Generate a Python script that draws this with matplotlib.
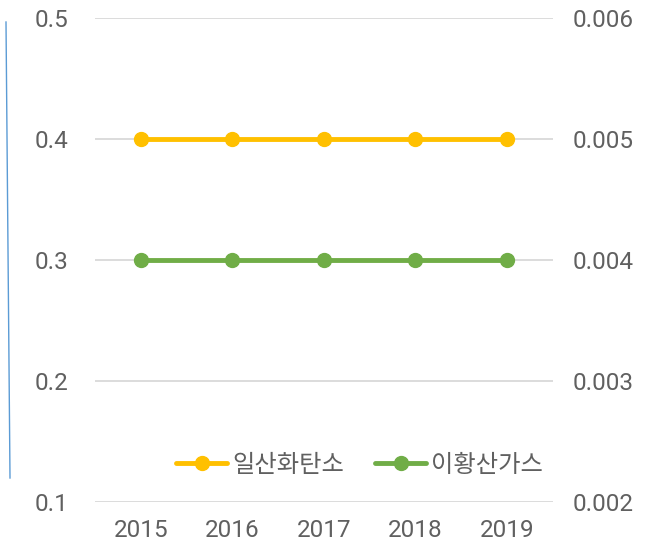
import matplotlib.pyplot as plt
from matplotlib.lines import Line2D

plt.rcParams['font.family'] = ['Roboto', 'Noto Sans CJK KR', 'DejaVu Sans']

years = ["2015", "2016", "2017", "2018", "2019"]
co = [0.4, 0.4, 0.4, 0.4, 0.4]            # 일산화탄소, left axis
so2 = [0.004, 0.004, 0.004, 0.004, 0.004]  # 이황산가스, right axis

YELLOW = "#FFC000"
GREEN = "#70AD47"
TXT = "#606060"
FS = 17.5

fig = plt.figure(figsize=(6.51, 5.5), dpi=100)
ax = fig.add_axes([0.146, 0.0873, 0.703, 0.8800])
ax2 = ax.twinx()

x = list(range(len(years)))
ax.plot(x, co, color=YELLOW, lw=3.5, marker="o", ms=10, solid_capstyle="round", zorder=3)
ax2.plot(x, so2, color=GREEN, lw=3.5, marker="o", ms=10, solid_capstyle="round", zorder=3)

ax.set_xlim(-0.5, 4.5)
ax.set_ylim(0.1, 0.5)
ax.set_yticks([0.1, 0.2, 0.3, 0.4, 0.5])
ax.set_yticklabels(["0.1", "0.2", "0.3", "0.4", "0.5"])
ax2.set_ylim(0.002, 0.006)
ax2.set_yticks([0.002, 0.003, 0.004, 0.005, 0.006])
ax2.set_yticklabels(["0.002", "0.003", "0.004", "0.005", "0.006"])
ax.set_xticks(x)
ax.set_xticklabels(years)

ax.grid(axis="y", color="#D9D9D9", lw=1.3)
ax.set_axisbelow(True)
for a in (ax, ax2):
    for s in a.spines.values():
        s.set_visible(False)
    a.tick_params(length=0, labelsize=FS, labelcolor=TXT)
ax.tick_params(axis="y", pad=19)
ax2.tick_params(axis="y", pad=14)
ax.tick_params(axis="x", pad=12)

handles = [
    Line2D([], [], color=YELLOW, lw=3.5, marker="o", ms=10, solid_capstyle="round"),
    Line2D([], [], color=GREEN, lw=3.5, marker="o", ms=10, solid_capstyle="round"),
]
leg = ax2.legend(handles, ["일산화탄소", "이황산가스"], loc="center", bbox_to_anchor=(0.578, 0.076),
                 ncol=2, frameon=False, fontsize=FS, handlelength=2.1, handletextpad=0.2,
                 columnspacing=1.3)
for t in leg.get_texts():
    t.set_color(TXT)

# stray blue line on the left edge
fig.add_artist(Line2D([6 / 651, 10 / 651], [1 - 22 / 550, 1 - 478 / 550],
                      color="#5B9BD5", lw=1.0, transform=fig.transFigure))

fig.savefig("out.png", dpi=100)
